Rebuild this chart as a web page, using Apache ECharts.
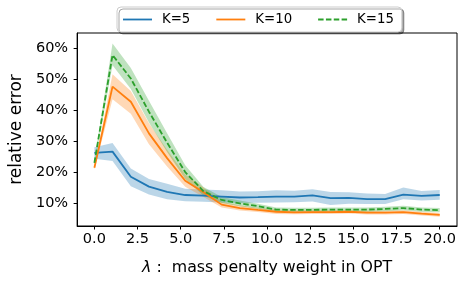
<!DOCTYPE html>
<html>
<head>
<meta charset="utf-8">
<script src="https://cdn.jsdelivr.net/npm/echarts@6/dist/echarts.min.js"></script>
<style>
html,body{margin:0;padding:0;background:#fff;}
#chart{width:464px;height:281px;}
</style>
</head>
<body>
<div id="chart"></div>
<script>
// ---- data ----
var lambdas = [0, 1.05, 2.11, 3.16, 4.21, 5.26, 6.32, 7.37, 8.42, 9.47, 10.53, 11.58, 12.63, 13.68, 14.74, 15.79, 16.84, 17.89, 18.95, 20];

var k5Mean  = [26.2, 26.6, 18.5, 15.3, 13.6, 12.6, 12.4, 12.1, 11.8, 11.9, 12.1, 12.1, 12.5, 11.6, 11.7, 11.3, 11.3, 12.7, 12.3, 12.6];
var k5Low   = [24.3, 23.6, 15.4, 12.8, 11.2, 10.6, 10.4, 10.2, 10.0, 10.1, 10.2, 10.3, 10.5, 9.4, 9.8, 9.7, 9.7, 11.2, 10.8, 11.1];
var k5High  = [28.0, 29.4, 21.2, 17.8, 16.2, 14.6, 14.4, 14.1, 13.7, 13.8, 14.1, 14.0, 14.5, 13.6, 13.5, 13.1, 12.9, 15.0, 13.9, 14.2];

var k10Mean = [21.4, 47.6, 42.7, 32.5, 24.5, 17.2, 13.5, 9.5, 8.4, 7.8, 7.2, 7.0, 7.1, 7.1, 7.2, 6.9, 6.9, 7.1, 6.6, 6.2];
var k10Low  = [20.8, 43.5, 38.8, 29.0, 21.8, 15.3, 12.0, 8.6, 7.6, 7.1, 6.5, 6.4, 6.5, 6.5, 6.6, 6.3, 6.3, 6.5, 6.0, 5.6];
var k10High = [22.0, 51.6, 46.2, 35.8, 27.2, 19.2, 15.0, 10.4, 9.2, 8.5, 7.9, 7.6, 7.7, 7.7, 7.8, 7.5, 7.5, 7.7, 7.2, 6.8];

var k15Mean = [23.0, 57.8, 50.2, 39.5, 29.5, 20.0, 13.8, 11.0, 9.9, 9.0, 7.9, 7.8, 7.8, 7.9, 7.9, 7.9, 8.1, 8.4, 7.9, 7.7];
var k15Low  = [22.4, 54.5, 46.8, 36.0, 26.5, 17.8, 12.4, 10.0, 9.0, 8.2, 7.2, 7.1, 7.1, 7.2, 7.2, 7.2, 7.4, 7.7, 7.2, 7.0];
var k15High = [23.6, 61.5, 53.6, 43.0, 32.5, 22.2, 15.2, 12.0, 10.8, 9.8, 8.6, 8.5, 8.5, 8.6, 8.6, 8.6, 8.8, 9.1, 8.6, 8.4];

var seriesNames = ['K=5', 'K=10', 'K=15'];
var xTicks = [0, 2.5, 5, 7.5, 10, 12.5, 15, 17.5, 20];
var yTicks = [10, 20, 30, 40, 50, 60];

// ---- build options ----
var colors = ['#1f77b4', '#ff7f0e', '#2ca02c'];
var means = [k5Mean, k10Mean, k15Mean];
var lows = [k5Low, k10Low, k15Low];
var highs = [k5High, k10High, k15High];

function pairs(arr) { return lambdas.map(function (x, i) { return [x, arr[i]]; }); }

function bandSeries(lo, hi, color) {
  return {
    type: 'custom', silent: true, z: 1, clip: true,
    data: lambdas.map(function (x, i) { return [x, lo[i], hi[i]]; }),
    encode: { x: 0, y: [1, 2] },
    renderItem: function (params, api) {
      if (params.dataIndex !== 0) return null;
      var pts = [];
      for (var i = 0; i < lambdas.length; i++) pts.push(api.coord([lambdas[i], hi[i]]));
      for (var j = lambdas.length - 1; j >= 0; j--) pts.push(api.coord([lambdas[j], lo[j]]));
      return { type: 'polygon', shape: { points: pts }, style: { fill: color, opacity: 0.3, stroke: null } };
    }
  };
}

var series = [];
for (var s = 0; s < 3; s++) series.push(bandSeries(lows[s], highs[s], colors[s]));
var lineTypes = ['solid', 'solid', [5.5, 2.4]];
for (var s2 = 0; s2 < 3; s2++) {
  series.push({
    name: seriesNames[s2], type: 'line', data: pairs(means[s2]), symbol: 'none',
    lineStyle: { color: colors[s2], width: 1.8, type: lineTypes[s2] },
    itemStyle: { color: colors[s2] }, z: 3
  });
}

var solidIcon = 'path://M0,0H29V1.8H0Z';
var dashIcon = 'path://M0,0H5.5V1.8H0Z M7.83,0H13.33V1.8H7.83Z M15.67,0H21.17V1.8H15.67Z M23.5,0H29V1.8H23.5Z';

var font = 'DejaVu Sans';
var chart = echarts.init(document.getElementById('chart'), null, { renderer: 'canvas' });
chart.setOption({
  animation: false,
  backgroundColor: '#fff',
  grid: { left: 67, right: 7, top: 33, bottom: 52, show: true, borderColor: '#000', borderWidth: 1, backgroundColor: 'transparent' },
  legend: {
    data: [
      { name: seriesNames[0], icon: solidIcon },
      { name: seriesNames[1], icon: solidIcon },
      { name: seriesNames[2], icon: dashIcon }
    ],
    left: 117, top: 7,
    itemWidth: 29, itemHeight: 1.8, itemGap: 26,
    padding: [5, 8, 5, 6],
    backgroundColor: '#fff', borderColor: '#cccccc', borderWidth: 1, borderRadius: 4,
    shadowColor: 'rgba(0,0,0,0.35)', shadowBlur: 0, shadowOffsetX: 2, shadowOffsetY: 2,
    textStyle: { fontFamily: font, fontSize: 13.3, color: '#000', padding: [0, 0, 0, 5], lineHeight: 15 }
  },
  xAxis: {
    type: 'value', min: -1, max: 21,
    name: '{i|λ}{n| :  mass penalty weight in OPT}', nameLocation: 'middle', nameGap: 34,
    nameTextStyle: { fontFamily: font, fontSize: 15.8, color: '#000',
      rich: { i: { fontStyle: 'italic', fontFamily: font, fontSize: 15.8, color: '#000' }, n: { fontFamily: font, fontSize: 15.8, color: '#000' } } },
    axisLine: { show: true, onZero: false, lineStyle: { color: '#000', width: 1 } },
    axisTick: { show: true, length: 3.5, lineStyle: { color: '#000', width: 1 }, customValues: xTicks },
    axisLabel: { fontFamily: font, fontSize: 14.5, color: '#000', margin: 6, customValues: xTicks,
      formatter: function (v) { return v.toFixed(1); } },
    splitLine: { show: false }
  },
  yAxis: {
    type: 'value', min: 2.6, max: 64.9,
    name: 'relative error', nameLocation: 'middle', nameGap: 40,
    nameTextStyle: { fontFamily: font, fontSize: 17, color: '#000' },
    axisLine: { show: true, onZero: false, lineStyle: { color: '#000', width: 1 } },
    axisTick: { show: true, length: 3.5, lineStyle: { color: '#000', width: 1 }, customValues: yTicks },
    axisLabel: { fontFamily: font, fontSize: 14.5, color: '#000', margin: 9, customValues: yTicks,
      formatter: function (v) { return v + '%'; } },
    splitLine: { show: false }
  },
  series: series
});
</script>
</body>
</html>
